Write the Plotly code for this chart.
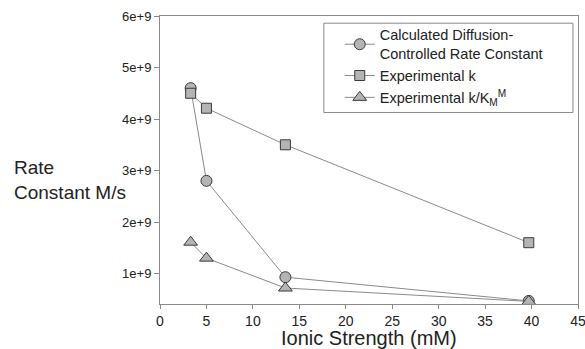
import plotly.graph_objects as go

ionic_strength = [3.3, 5.0, 13.5, 39.7]
calc_diffusion = [4.60e9, 2.80e9, 0.93e9, 0.47e9]
experimental_k = [4.50e9, 4.21e9, 3.50e9, 1.60e9]
experimental_k_km = [1.61e9, 1.30e9, 0.72e9, 0.46e9]

y_tickvals = [1e9, 2e9, 3e9, 4e9, 5e9, 6e9]
y_ticktext = ["1e+9", "2e+9", "3e+9", "4e+9", "5e+9", "6e+9"]
x_tickvals = [0, 5, 10, 15, 20, 25, 30, 35, 40, 45]

series = [
    ("Calculated Diffusion-<br>Controlled Rate Constant", calc_diffusion, "circle", 11),
    ("Experimental k", experimental_k, "square", 10),
    ("Experimental k/K<sub>M</sub><sup>M</sup>", experimental_k_km, "triangle-up", 12),
]

FONT = "Liberation Sans, Arial, sans-serif"

fig = go.Figure()
for name, vals, sym, size in series:
    fig.add_trace(go.Scatter(
        x=ionic_strength, y=vals, name=name, mode="lines+markers",
        line=dict(color="#8a8a8a", width=1),
        marker=dict(symbol=sym, size=size, color="#b4b4b4",
                    line=dict(color="#3a3a3a", width=1)),
    ))

fig.update_layout(
    width=585, height=349,
    margin=dict(l=160, r=7, t=16, b=45, autoexpand=False),
    plot_bgcolor="white", paper_bgcolor="white",
    font=dict(family=FONT, color="#222222", size=13),
    showlegend=True,
    legend=dict(x=0.43, y=0.99, xanchor="left", yanchor="top",
                bgcolor="rgba(0,0,0,0)", borderwidth=0,
                font=dict(size=14.5, family=FONT, color="#222222"),
                tracegroupgap=0, itemwidth=30),
    shapes=[dict(type="rect", xref="paper", yref="paper",
                 x0=0.392, x1=0.988, y0=0.665, y1=0.975,
                 line=dict(color="#8a8a8a", width=1))],
    annotations=[
        dict(text="Rate<br>Constant M/s", xref="paper", yref="paper",
             x=-0.355, y=0.43, xanchor="left", yanchor="middle",
             showarrow=False, align="left",
             font=dict(size=19, family=FONT, color="#222222")),
        dict(text="Ionic Strength (mM)", xref="paper", yref="paper",
             x=0.5, y=-0.072, xanchor="center", yanchor="top",
             showarrow=False,
             font=dict(size=20, family=FONT, color="#222222")),
    ],
)
fig.update_xaxes(
    range=[0, 45], tickvals=x_tickvals, showgrid=False, zeroline=False,
    showline=True, linecolor="#8a8a8a", linewidth=1, mirror=True,
    ticks="outside", ticklen=4, tickcolor="#8a8a8a", automargin=False,
    ticklabeloverflow="allow",
    tickfont=dict(size=14, family=FONT, color="#222222"),
)
fig.update_yaxes(
    range=[0.41e9, 6e9], tickvals=y_tickvals, ticktext=y_ticktext,
    showgrid=False, zeroline=False, automargin=False,
    showline=True, linecolor="#8a8a8a", linewidth=1, mirror=True,
    ticks="outside", ticklen=5, tickcolor="#8a8a8a",
    tickfont=dict(size=13, family=FONT, color="#222222"),
)

fig.write_html("out.html", config={"displayModeBar": False},
               post_script="document.body.style.margin='0';")
